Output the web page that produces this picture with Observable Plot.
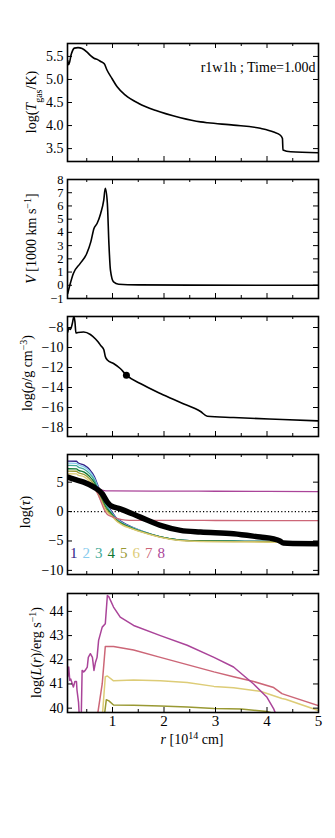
<!DOCTYPE html>
<html><head><meta charset="utf-8">
<script src="https://cdn.jsdelivr.net/npm/d3@7"></script>
<script src="https://cdn.jsdelivr.net/npm/@observablehq/plot@0.6"></script>
<style>
body{margin:0;background:#fff;}
#wrap{position:relative;width:335px;height:838px;font-family:"Liberation Serif","Times New Roman",serif;}
#wrap svg{position:absolute;left:0;overflow:visible;}
</style></head><body><div id="wrap"></div>
<script>
// ---------- data ----------
const xMajor = [1, 2, 3, 4, 5];
const xMinor = [0.5, 1.5, 2.5, 3.5, 4.5];
const annotation = "r1w1h ; Time=1.00d";

// Panel 1: log T_gas
const rT = [0.13,0.15,0.20,0.26,0.33,0.41,0.50,0.58,0.64,0.71,0.77,0.84,0.89,0.99,1.09,1.25,1.51,1.83,2.32,2.71,2.85,3.35,3.87,4.13,4.26,4.30,4.31,4.46,5.0];
const logT = [5.41,5.32,5.55,5.68,5.69,5.67,5.60,5.51,5.46,5.43,5.39,5.34,5.21,5.02,4.84,4.66,4.48,4.33,4.17,4.08,4.06,4.01,3.94,3.86,3.79,3.72,3.47,3.43,3.41];
const tTicks = [3.5, 4.0, 4.5, 5.0, 5.5];

// Panel 2: velocity
const rV = [0.13,0.18,0.24,0.37,0.50,0.58,0.64,0.70,0.77,0.83,0.86,0.90,0.93,0.96,1.02,1.12,1.5,2.5,5.0];
const vel = [-0.63,0.13,0.89,1.64,2.4,3.3,4.3,4.67,5.43,6.44,7.33,6.19,3.16,1.14,0.25,0.08,0.03,0.01,0.0];
const vTicks = [-1,0,1,2,3,4,5,6,7,8];

// Panel 3: log density
const rRho = [0.13,0.15,0.18,0.22,0.25,0.27,0.29,0.33,0.44,0.57,0.67,0.73,0.77,0.83,0.86,0.90,1.02,1.15,1.27,1.54,1.93,2.32,2.71,2.84,3.35,4.3,5.0];
const logRho = [-8.45,-8.1,-8.2,-7.6,-6.9,-7.4,-8.55,-8.5,-8.45,-8.7,-9.15,-9.5,-9.8,-10.2,-10.9,-11.25,-11.6,-12.1,-12.77,-13.6,-14.6,-15.5,-16.4,-16.87,-17.0,-17.2,-17.34];
const rDot = [1.27];
const rhoDot = [-12.77];
const rhoTicks = [-18,-16,-14,-12,-10,-8];

// Panel 4: log tau, bands 1..8 and total
const bandLabels = ["1","2","3","4","5","6","7","8"];
const bandColors = ["#332288","#88CCEE","#44AA99","#117733","#999933","#DDCC77","#CC6677","#AA4499"];
const rTauBand = [0.13,0.30,0.33,0.45,0.55,0.65,0.73,0.80,0.86,0.93,1.00,1.06,1.19,1.38,1.6,1.93,2.32,2.71,3.35,3.9,4.25,4.3];
const tau1 = [8.57,8.55,8.3,7.9,7.2,5.9,4.15,2.9,1.9,0.76,-0.2,-0.94,-1.8,-2.64,-3.4,-4.3,-4.85,-5.0,-5.05,-5.08,-5.15,-5.3];
const tau2 = [8.23,8.2,8.0,7.6,6.9,5.6,3.9,2.6,1.5,0.5,-0.4,-1.1,-1.9,-2.7,-3.4,-4.3,-4.85,-5.0,-5.05,-5.08,-5.15,-5.3];
const tau3 = [7.84,7.8,7.6,7.2,6.5,5.3,3.6,2.3,1.2,0.3,-0.5,-1.2,-2.0,-2.75,-3.45,-4.3,-4.85,-5.0,-5.05,-5.08,-5.15,-5.3];
const tau4 = [7.28,7.25,7.05,6.7,6.0,4.9,3.3,2.0,0.9,0.1,-0.6,-1.3,-2.1,-2.8,-3.5,-4.3,-4.85,-5.0,-5.05,-5.08,-5.15,-5.3];
const tau5 = [6.87,6.85,6.65,6.3,5.6,4.5,3.0,1.7,0.6,-0.2,-0.8,-1.4,-2.2,-2.9,-3.55,-4.34,-4.9,-5.05,-5.1,-5.13,-5.2,-5.33];
const tau6 = [6.43,6.4,6.2,5.9,5.2,4.1,2.7,1.4,0.3,-0.4,-0.9,-1.5,-2.3,-2.95,-3.6,-4.4,-4.95,-5.1,-5.15,-5.18,-5.24,-5.36];
const rTau7 = [0.13,0.30,0.45,0.55,0.65,0.72,0.78,0.84,0.90,1.0,1.1,1.25,1.4,2.0,3.0,4.0,5.0];
const tau7 = [5.97,5.7,5.1,4.6,3.9,2.9,1.6,0.3,-0.5,-0.9,-1.2,-1.45,-1.5,-1.5,-1.52,-1.55,-1.55];
const rTau8 = [0.13,0.30,0.45,0.60,0.70,0.78,0.84,0.90,1.0,2.0,3.0,4.0,5.0];
const tau8 = [5.8,5.6,5.0,4.4,4.0,3.7,3.55,3.5,3.5,3.48,3.45,3.42,3.4];
const rTauTot = [0.13,0.25,0.44,0.64,0.80,0.90,0.96,1.15,1.54,1.93,2.32,2.71,3.35,3.87,4.13,4.25,4.32,4.5,5.0];
const tauTot = [5.85,5.5,5.0,4.15,3.03,1.6,1.04,0.47,-0.94,-2.35,-3.2,-3.49,-3.76,-4.34,-4.65,-5.0,-5.36,-5.42,-5.46];
const tauTicks = [-10,-5,0,5];

// Panel 5: log L(r), bands 5..8
const rL8 = [0.13,0.15,0.17,0.19,0.22,0.24,0.27,0.30,0.31,0.34,0.365,0.39,0.41,0.44,0.47,0.51,0.53,0.57,0.61,0.64,0.67,0.70,0.73,0.80,0.86,0.90,0.93,1.02,1.15,1.41,1.93,2.45,2.97,3.35,3.74,4.0,4.13,4.2];
const L8 = [41.3,41.7,41.15,41.2,41.0,40.87,41.1,41.1,40.75,40.25,39.3,39.3,41.56,41.5,41.56,41.7,42.1,42.25,42.1,41.56,41.9,42.1,42.8,43.35,43.49,44.66,44.6,44.18,43.76,43.42,43.0,42.6,42.1,41.7,41.0,40.45,39.97,39.6];
const rL7 = [0.70,0.80,0.86,1.02,1.41,1.93,2.45,2.97,3.35,3.74,4.13,4.29,4.36,5.0];
const L7 = [39.6,41.0,42.55,42.55,42.4,42.1,41.8,41.5,41.3,41.1,40.85,40.6,40.55,40.1];
const rL6 = [0.80,0.86,0.90,1.02,1.41,1.93,2.45,2.97,3.35,3.87,4.29,4.36,5.0];
const L6 = [39.6,41.3,41.33,41.13,41.16,41.13,41.06,40.9,40.84,40.7,40.4,40.37,39.9];
const rL5 = [0.83,0.88,0.93,1.02,1.41,1.93,2.45,2.97,3.5,4.0,4.1];
const L5 = [39.5,40.35,40.3,40.13,40.12,40.09,40.05,39.99,39.96,39.86,39.8];
const lTicks = [40,41,42,43,44];

// ---------- layout ----------
const wrap = document.getElementById("wrap");
const W = 335, ML = 67, MR = 17, FW = W - ML - MR;
const xDomain = [0.126, 5.0];
const FONT = "Liberation Serif, Times New Roman, serif";
const zip = (xs, ys) => xs.map((x, i) => ({x, y: ys[i]}));

function panel({top, mt, frameH, mb, yDomain, yTicks, yFmt, marks, xLabels = false, tickFont = 14}) {
  const height = mt + frameH + mb;
  const svg = Plot.plot({
    width: W, height, marginLeft: ML, marginRight: MR, marginTop: mt, marginBottom: mb,
    style: {fontFamily: FONT, fontSize: "14px", background: "transparent", overflow: "visible"},
    x: {domain: xDomain, axis: null},
    y: {domain: yDomain, axis: null},
    marks: [
      ...marks,
      Plot.tickX(xMajor, {x: d => d, insetTop: frameH - 5, strokeWidth: 1}),
      Plot.tickX(xMajor, {x: d => d, insetBottom: frameH - 5, strokeWidth: 1}),
      Plot.tickX(xMinor, {x: d => d, insetTop: frameH - 3, strokeWidth: 1}),
      Plot.tickX(xMinor, {x: d => d, insetBottom: frameH - 3, strokeWidth: 1}),
      Plot.tickY(yTicks, {y: d => d, insetRight: FW - 5, strokeWidth: 1}),
      Plot.tickY(yTicks, {y: d => d, insetLeft: FW - 5, strokeWidth: 1}),
      Plot.axisY(yTicks, {anchor: "left", tickSize: 0, tickPadding: 4, tickFormat: yFmt, label: null, fontSize: tickFont}),
      xLabels ? Plot.axisX(xMajor, {anchor: "bottom", tickSize: 0, tickPadding: 3, tickFormat: d3.format("d"), label: null, fontSize: 15}) : null,
      Plot.frame({strokeWidth: 1.6})
    ]
  });
  svg.style.top = top + "px";
  wrap.append(svg);
  return svg;
}

function richText(svg, x, y, parts, rotate) {
  const t = d3.select(svg).append("text")
    .attr("transform", `translate(${x},${y})` + (rotate ? " rotate(-90)" : ""))
    .attr("text-anchor", "middle").attr("dy", "0.35em")
    .style("font-family", FONT).style("font-size", "14px").attr("fill", "black");
  parts.forEach(p => {
    const s = t.append("tspan").text(p.t);
    if (p.i) s.style("font-style", "italic");
    if (p.sub) s.attr("baseline-shift", "sub").style("font-size", "10px");
    if (p.sup) s.attr("baseline-shift", "super").style("font-size", "10px");
  });
}

// Panel 1
const s1 = panel({top: 0, mt: 43, frameH: 118, mb: 9, yDomain: [3.22, 5.78], yTicks: tTicks, yFmt: d3.format(".1f"),
  marks: [
    Plot.line(zip(rT, logT), {x: "x", y: "y", stroke: "black", strokeWidth: 1.6, curve: "monotone-x", clip: true}),
    Plot.text([annotation], {text: d => d, frameAnchor: "top-right", dx: -3, dy: 19, textAnchor: "end", fontSize: 14})
  ]});
richText(s1, 31, 43 + 59, [{t: "log("}, {t: "T", i: true}, {t: "gas", sub: true}, {t: "/K)"}], true);

// Panel 2
const s2 = panel({top: 170, mt: 9, frameH: 119, mb: 9, yDomain: [-1, 8], yTicks: vTicks, yFmt: d3.format("d"), tickFont: 12.5,
  marks: [
    Plot.line(zip(rV, vel), {x: "x", y: "y", stroke: "black", strokeWidth: 1.6, curve: "monotone-x", clip: true})
  ]});
richText(s2, 31, 9 + 59.5, [{t: "V", i: true}, {t: " [1000 km s"}, {t: "−1", sup: true}, {t: "]"}], true);

// Panel 3
const s3 = panel({top: 307, mt: 9, frameH: 120, mb: 9, yDomain: [-18.9, -6.9], yTicks: rhoTicks, yFmt: d3.format("d"),
  marks: [
    Plot.line(zip(rRho, logRho), {x: "x", y: "y", stroke: "black", strokeWidth: 1.6, curve: "monotone-x", clip: true}),
    Plot.dot(zip(rDot, rhoDot), {x: "x", y: "y", r: 3.5, fill: "black"})
  ]});
richText(s3, 27, 9 + 57, [{t: "log("}, {t: "ρ", i: true}, {t: "/g cm"}, {t: "−3", sup: true}, {t: ")"}], true);

// Panel 4
const tauBands = [
  zip(rTauBand, tau1), zip(rTauBand, tau2), zip(rTauBand, tau3), zip(rTauBand, tau4),
  zip(rTauBand, tau5), zip(rTauBand, tau6), zip(rTau7, tau7), zip(rTau8, tau8)
];
const s4 = panel({top: 445, mt: 9, frameH: 120, mb: 10, yDomain: [-10.7, 9.7], yTicks: tauTicks, yFmt: d3.format("d"),
  marks: [
    Plot.ruleY([0], {stroke: "black", strokeWidth: 1.2, strokeDasharray: "1.2,2.2"}),
    ...tauBands.map((b, i) => Plot.line(b, {x: "x", y: "y", stroke: bandColors[i], strokeWidth: 1.3, curve: "monotone-x", clip: true})),
    Plot.line(zip(rTauTot, tauTot), {x: "x", y: "y", stroke: "black", strokeWidth: 5.5, curve: "monotone-x", clip: true}),
    ...bandLabels.map((lab, i) => Plot.text([lab], {text: d => d, frameAnchor: "bottom-left", dx: 6.3 + i * 12.5, dy: -17, fill: bandColors[i], fontSize: 15, textAnchor: "middle"}))
  ]});
richText(s4, 25, 9 + 58, [{t: "log("}, {t: "τ", i: true}, {t: ")"}], true);

// Panel 5
const lBands = [[zip(rL5, L5), bandColors[4]], [zip(rL6, L6), bandColors[5]], [zip(rL7, L7), bandColors[6]], [zip(rL8, L8), bandColors[7]]];
const s5 = panel({top: 584, mt: 9, frameH: 119, mb: 40, yDomain: [39.82, 44.74], yTicks: lTicks, yFmt: d3.format("d"), xLabels: true,
  marks: lBands.map(([b, c]) => Plot.line(b, {x: "x", y: "y", stroke: c, strokeWidth: 1.5, clip: true}))});
richText(s5, 36, 9 + 59.5, [{t: "log("}, {t: "L", i: true}, {t: "("}, {t: "r", i: true}, {t: ")/erg s"}, {t: "−1", sup: true}, {t: ")"}], true);
richText(s5, 192, 9 + 119 + 27, [{t: "r", i: true}, {t: " [10"}, {t: "14", sup: true}, {t: " cm]"}], false);
</script></body></html>
